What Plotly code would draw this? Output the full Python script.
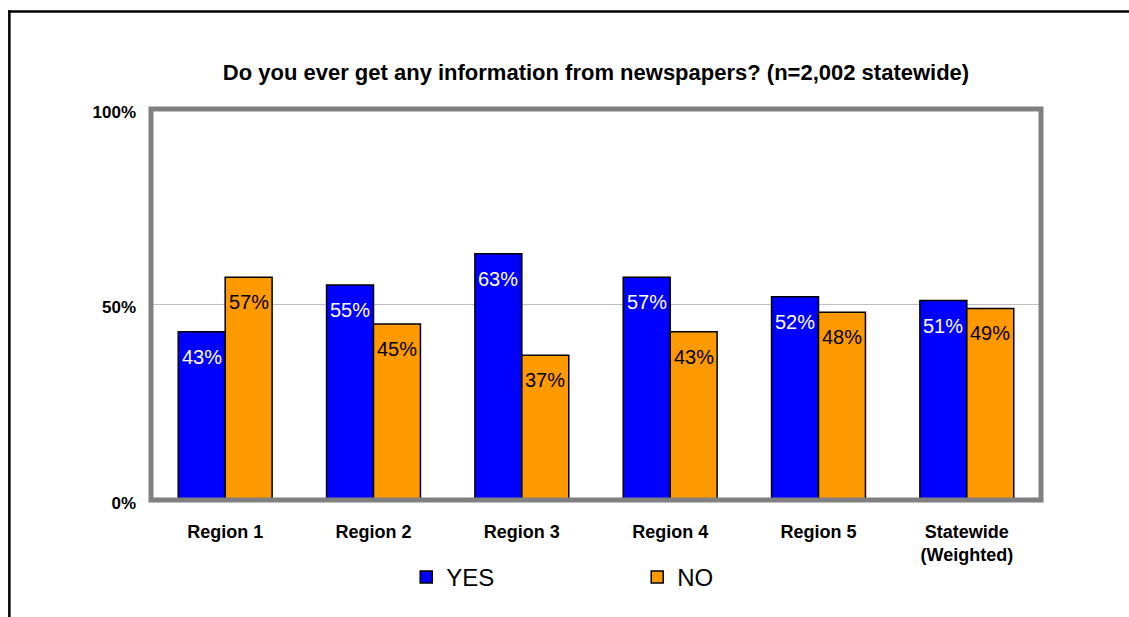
import plotly.graph_objects as go

# Survey results by region
categories = ["Region 1", "Region 2", "Region 3", "Region 4", "Region 5", "Statewide<br>(Weighted)"]
yes_pct = [43, 55, 63, 57, 52, 51]
no_pct = [57, 45, 37, 43, 48, 49]
y_ticks = [0, 50, 100]
y_tick_text = ["0%", "50%", "100%"]

W, H = 1129, 617
# plot area in pixels (centre of the grey frame)
PL, PR, PT, PB = 150.5, 1041.5, 108.5, 500.5
PW, PH = PR - PL, PB - PT

FONT = "Arial, Liberation Sans, sans-serif"
BLUE = "#0000FF"
ORANGE = "#FF9900"


def px_x(px):
    return (px - PL) / PW


def px_y(py):
    return (PB - py) / PH


fig = go.Figure()
fig.add_trace(go.Bar(
    name="YES", x=categories, y=yes_pct,
    marker=dict(color=BLUE, line=dict(color="black", width=1.5)),
))
fig.add_trace(go.Bar(
    name="NO", x=categories, y=no_pct,
    marker=dict(color=ORANGE, line=dict(color="black", width=1.5)),
))

# value labels just inside the top of each bar
BARGAP = 0.367
bar_px = PW / len(categories) * (1 - BARGAP) / 2
annotations = []
for cat, yv, nv in zip(categories, yes_pct, no_pct):
    annotations.append(dict(
        x=cat, y=yv, xref="x", yref="y", text=f"{yv}%", showarrow=False,
        xshift=-bar_px / 2, yshift=-25, yanchor="middle",
        font=dict(family=FONT, size=20, color="white"),
    ))
    annotations.append(dict(
        x=cat, y=nv, xref="x", yref="y", text=f"{nv}%", showarrow=False,
        xshift=bar_px / 2, yshift=-25, yanchor="middle",
        font=dict(family=FONT, size=20, color="black"),
    ))

shapes = [
    # grey plot-area frame
    dict(type="rect", xref="paper", yref="paper", x0=0, x1=1, y0=0, y1=1,
         line=dict(color="#808080", width=5), layer="above"),
    # black page frame (top and left edges)
    dict(type="line", xref="paper", yref="paper",
         x0=px_x(7.5), x1=px_x(W + 5), y0=px_y(10.7), y1=px_y(10.7),
         line=dict(color="black", width=2.5)),
    dict(type="line", xref="paper", yref="paper",
         x0=px_x(8.7), x1=px_x(8.7), y0=px_y(9.5), y1=px_y(H + 5),
         line=dict(color="black", width=2.5)),
]

fig.update_layout(
    width=W, height=H,
    margin=dict(l=PL, r=W - PR, t=PT, b=H - PB, pad=0),
    paper_bgcolor="white", plot_bgcolor="white",
    barmode="group", bargap=BARGAP, bargroupgap=0,
    title=dict(
        text="<b>Do you ever get any information from newspapers? (n=2,002 statewide)</b>",
        x=0.5, xref="paper", xanchor="center",
        y=1 - 72 / H, yref="container", yanchor="middle",
        font=dict(family=FONT, size=22, color="black"),
    ),
    xaxis=dict(
        showgrid=False, showline=False, zeroline=False, ticks="",
        tickfont=dict(family=FONT, size=18, color="black", weight="bold"),
        ticklabelstandoff=19,
    ),
    yaxis=dict(
        range=[0, 100], tickvals=y_ticks, ticktext=y_tick_text,
        showgrid=True, gridcolor="#C0C0C0", gridwidth=1,
        showline=False, zeroline=False, ticks="",
        tickfont=dict(family=FONT, size=17, color="black", weight="bold"),
        ticklabelstandoff=14, ticklabelshift=3,
    ),
    legend=dict(
        orientation="h", x=px_x(406), xanchor="left",
        y=px_y(578), yanchor="middle",
        font=dict(family=FONT, size=24, color="black"),
        entrywidth=186, entrywidthmode="pixels",
        bgcolor="rgba(0,0,0,0)", borderwidth=0,
    ),
    annotations=annotations,
    shapes=shapes,
    showlegend=True,
)

fig.write_html("out.html")
